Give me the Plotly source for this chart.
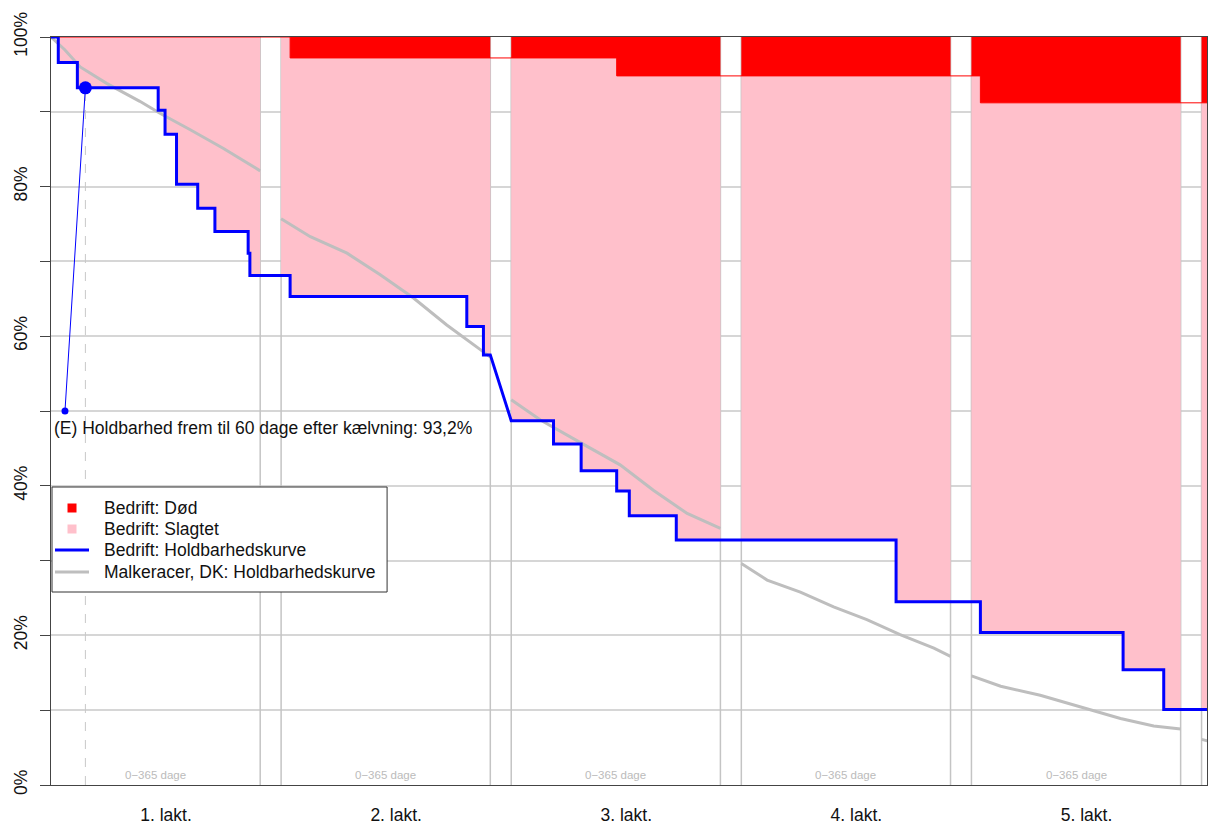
import plotly.graph_objects as go

# ---------------- data ----------------
LACT_DAYS = 365.0
GAP_DAYS = 36.5
PERIOD = LACT_DAYS + GAP_DAYS
X_MAX = 2017.0
N_LACT = 6  # 6th lactation only just visible at the right edge

lact_labels = ["1. lakt.", "2. lakt.", "3. lakt.", "4. lakt.", "5. lakt."]
period_label = "0\u2212365 dage"

# Bedrift: Holdbarhedskurve (%), value at the start of each lactation
blue_start = [100.0, 68.1, 48.7, 32.75, 24.5, 10.1]
# steps of the company curve: lactation, day in lactation, new value (%)
blue_lact = [1, 1, 1, 1, 1, 1, 1, 1, 1, 2, 2, 2, 3, 3, 3, 3, 3, 4, 5, 5, 5]
blue_day = [12.7, 46, 187, 199, 219, 256, 286, 344, 347,
            15.7, 324, 353,
            73.8, 122, 184, 206, 288,
            270,
            15.6, 264.6, 335.5]
blue_val = [96.6, 93.2, 90.2, 87.0, 80.3, 77.1, 74.0, 71.1, 68.1,
            65.3, 61.3, 57.5,
            45.6, 42.0, 39.3, 36.0, 32.75,
            24.5,
            20.4, 15.4, 10.1]

# Bedrift: Død -> level of (100% - cumulative dead)
dead_start = 100.0
dead_lact = [2, 3, 5]
dead_day = [15.7, 184, 15.6]
dead_val = [97.2, 94.8, 91.2]

# Malkeracer, DK: Holdbarhedskurve (%)
gray_lact = [1, 1, 1, 1, 1, 1, 1, 1, 1,
             2, 2, 2, 2, 2, 2, 2, 2,
             3, 3, 3, 3, 3, 3, 3,
             4, 4, 4, 4, 4, 4, 4, 4,
             5, 5, 5, 5, 5, 5, 5,
             6, 6]
gray_day = [0, 24, 51, 97, 155, 190, 243, 301, 365,
            0, 51, 115, 173, 231, 289, 353, 365,
            0, 51, 120, 190, 248, 307, 365,
            0, 45, 103, 161, 219, 277, 336, 365,
            0, 51, 120, 190, 260, 318, 365,
            0, 10]
gray_val = [100.0, 98.3, 96.0, 93.8, 91.4, 89.8, 87.6, 85.1, 82.1,
            75.7, 73.3, 71.1, 68.2, 65.1, 61.5, 57.9, 57.2,
            51.5, 48.8, 45.8, 42.8, 39.4, 36.3, 34.3,
            29.6, 27.4, 25.8, 23.8, 22.1, 20.1, 18.3, 17.2,
            14.6, 13.2, 12.0, 10.5, 8.9, 7.9, 7.5,
            6.1, 5.9]

# (E) marker: holdbarhed until 60 days after calving
e_from_day, e_from_val = 24.4, 50.0
e_day, e_val = 60.0, 93.2
e_text = "(E) Holdbarhed frem til 60 dage efter k\u00e6lvning: 93,2%"

legend_names = ["Bedrift: D\u00f8d", "Bedrift: Slagtet",
                "Bedrift: Holdbarhedskurve", "Malkeracer, DK: Holdbarhedskurve"]

RED = "#ff0000"
PINK = "#ffc0cb"
BLUE = "#0000ff"
GRAY = "#bebebe"
TXT = "#111111"
FONT = "Liberation Sans, Arial, sans-serif"

# ---------------- layout geometry (pixels) ----------------
FIG_W, FIG_H = 1222, 826
M_L, M_R, M_T, M_B = 43, 23.3, 29, 49
PLOT_W = FIG_W - M_L - M_R
PLOT_H = FIG_H - M_T - M_B


def X(lact, day):
    return (lact - 1) * PERIOD + day


def lact_end(k):
    return min(X(k, LACT_DAYS), X_MAX)


def step_path(k, start, lacts, days, vals):
    xs, ys = [X(k, 0)], [start]
    v = start
    for L, d, nv in zip(lacts, days, vals):
        if L == k:
            xs += [X(k, d), X(k, d)]
            ys += [v, nv]
            v = nv
    xs.append(lact_end(k))
    ys.append(v)
    return xs, ys, v


def dead_level_at_start(k):
    v = dead_start
    for L, nv in zip(dead_lact, dead_val):
        if L < k:
            v = nv
    return v


fig = go.Figure()

# pink (slaughtered) and red (dead) areas per lactation
for k in range(1, N_LACT + 1):
    bx, by, _ = step_path(k, blue_start[k - 1], blue_lact, blue_day, blue_val)
    dx, dy, _ = step_path(k, dead_level_at_start(k), dead_lact, dead_day, dead_val)
    fig.add_trace(go.Scatter(x=bx + dx[::-1], y=by + dy[::-1], fill="toself",
                             fillcolor=PINK, mode="none", showlegend=False,
                             name=legend_names[1], hoverinfo="skip"))
    if min(dy) < 100:
        fig.add_trace(go.Scatter(x=dx + [lact_end(k), X(k, 0)], y=dy + [100, 100],
                                 fill="toself", fillcolor=RED, mode="none",
                                 name=legend_names[0], showlegend=False,
                                 hoverinfo="skip"))

# thin red line of the dead level across the whole range
rx, ry = [0], [dead_start]
for L, d, nv in zip(dead_lact, dead_day, dead_val):
    rx += [X(L, d), X(L, d)]
    ry += [ry[-1], nv]
rx.append(X_MAX)
ry.append(ry[-1])
fig.add_trace(go.Scatter(x=rx, y=ry, mode="lines", line=dict(color=RED, width=1),
                         showlegend=False, hoverinfo="skip"))

# national curve (gray), separate piece per lactation
gx, gy = [], []
for k in range(1, N_LACT + 1):
    for L, d, v in zip(gray_lact, gray_day, gray_val):
        if L == k:
            gx.append(X(k, d))
            gy.append(v)
    gx.append(None)
    gy.append(None)
fig.add_trace(go.Scatter(x=gx, y=gy, mode="lines", line=dict(color=GRAY, width=3),
                         name=legend_names[3], showlegend=False))

# company curve (blue)
px_, py_ = [], []
for k in range(1, N_LACT + 1):
    bx, by, _ = step_path(k, blue_start[k - 1], blue_lact, blue_day, blue_val)
    if px_ and px_[-1] == bx[0] and py_[-1] == by[0]:
        bx, by = bx[1:], by[1:]
    px_ += bx
    py_ += by
fig.add_trace(go.Scatter(x=px_, y=py_, mode="lines", line=dict(color=BLUE, width=3),
                         name=legend_names[2], showlegend=False))

# (E) marker line and points
fig.add_trace(go.Scatter(x=[e_from_day, e_day], y=[e_from_val, e_val], mode="lines",
                         line=dict(color=BLUE, width=1), showlegend=False, hoverinfo="skip"))
fig.add_trace(go.Scatter(x=[e_from_day], y=[e_from_val], mode="markers",
                         marker=dict(color=BLUE, size=7), showlegend=False))
fig.add_trace(go.Scatter(x=[e_day], y=[e_val], mode="markers",
                         marker=dict(color=BLUE, size=13), showlegend=False))

# vertical gap lines and dashed 60-day line
shapes = []
for k in range(1, N_LACT):
    for xv in (X(k, LACT_DAYS), X(k + 1, 0)):
        shapes.append(dict(type="line", xref="x", yref="y", x0=xv, x1=xv, y0=0, y1=100,
                           line=dict(color="#c4c4c4", width=1.5), layer="between"))
shapes.append(dict(type="line", xref="x", yref="y", x0=e_day, x1=e_day, y0=0, y1=e_val,
                   line=dict(color="#c8c8c8", width=1, dash="dash"), layer="between"))

annotations = [dict(x=0, y=47.7, xref="x", yref="y", text=e_text, showarrow=False,
                    xanchor="left", yanchor="middle", xshift=1,
                    font=dict(family=FONT, size=17.5, color=TXT))]
for k in range(1, len(lact_labels) + 1):
    annotations.append(dict(x=X(k, LACT_DAYS / 2), y=0, xref="x", yref="y",
                            text=period_label, showarrow=False, yanchor="bottom",
                            yshift=2, font=dict(family=FONT, size=11.5, color="#bbbbbb")))


# ---------------- legend (drawn in plot-pixel coordinates) ----------------
def pxx(p):  # pixels from plot left -> paper
    return p / PLOT_W


def pxy(p):  # pixels from plot top -> paper
    return 1 - p / PLOT_H


LG_L, LG_R, LG_T, LG_B = 1, 336, 450, 555
row_y = [471, 492, 513, 535]
sym_c, line_l, line_r, text_x = 21, 4, 38, 51
shapes.append(dict(type="rect", xref="paper", yref="paper",
                   x0=pxx(LG_L), x1=pxx(LG_R), y0=pxy(LG_B), y1=pxy(LG_T),
                   line=dict(color="#333333", width=1), fillcolor="white", layer="above"))
for i, col in enumerate([RED, PINK]):
    shapes.append(dict(type="rect", xref="paper", yref="paper",
                       x0=pxx(sym_c - 4.5), x1=pxx(sym_c + 4.5),
                       y0=pxy(row_y[i] + 4.5), y1=pxy(row_y[i] - 4.5),
                       line=dict(width=0), fillcolor=col, layer="above"))
for i, col in zip([2, 3], [BLUE, GRAY]):
    shapes.append(dict(type="line", xref="paper", yref="paper",
                       x0=pxx(line_l), x1=pxx(line_r), y0=pxy(row_y[i]), y1=pxy(row_y[i]),
                       line=dict(color=col, width=3), layer="above"))
for i, name in enumerate(legend_names):
    annotations.append(dict(x=pxx(text_x), y=pxy(row_y[i]), xref="paper", yref="paper",
                            text=name, showarrow=False, xanchor="left", yanchor="middle",
                            font=dict(family=FONT, size=17.5, color=TXT)))

fig.update_layout(
    width=FIG_W, height=FIG_H,
    margin=dict(l=M_L, r=M_R, t=M_T, b=M_B, autoexpand=False),
    paper_bgcolor="white", plot_bgcolor="white",
    font=dict(family=FONT, size=17.5, color=TXT),
    shapes=shapes, annotations=annotations,
    hovermode=False, showlegend=False,
)
fig.update_xaxes(range=[0, X_MAX], showgrid=False, zeroline=False, automargin=False,
                 tickvals=[X(k, PERIOD / 2) for k in range(1, len(lact_labels) + 1)],
                 ticktext=lact_labels, ticks="", ticklabelstandoff=14,
                 showline=True, linecolor="#444444", linewidth=1.3, mirror=True)
fig.update_yaxes(range=[0, 100], zeroline=False, showgrid=True, gridcolor="#d6d6d6",
                 gridwidth=1.5, automargin=False,
                 tickvals=list(range(0, 101, 10)),
                 ticktext=[f"{v}%" if v % 20 == 0 else "" for v in range(0, 101, 10)],
                 tickangle=-90, ticks="outside", ticklen=10, tickcolor="#444444",
                 ticklabelstandoff=6,
                 showline=True, linecolor="#444444", linewidth=1.3, mirror=True)

fig.write_html("out.html")
